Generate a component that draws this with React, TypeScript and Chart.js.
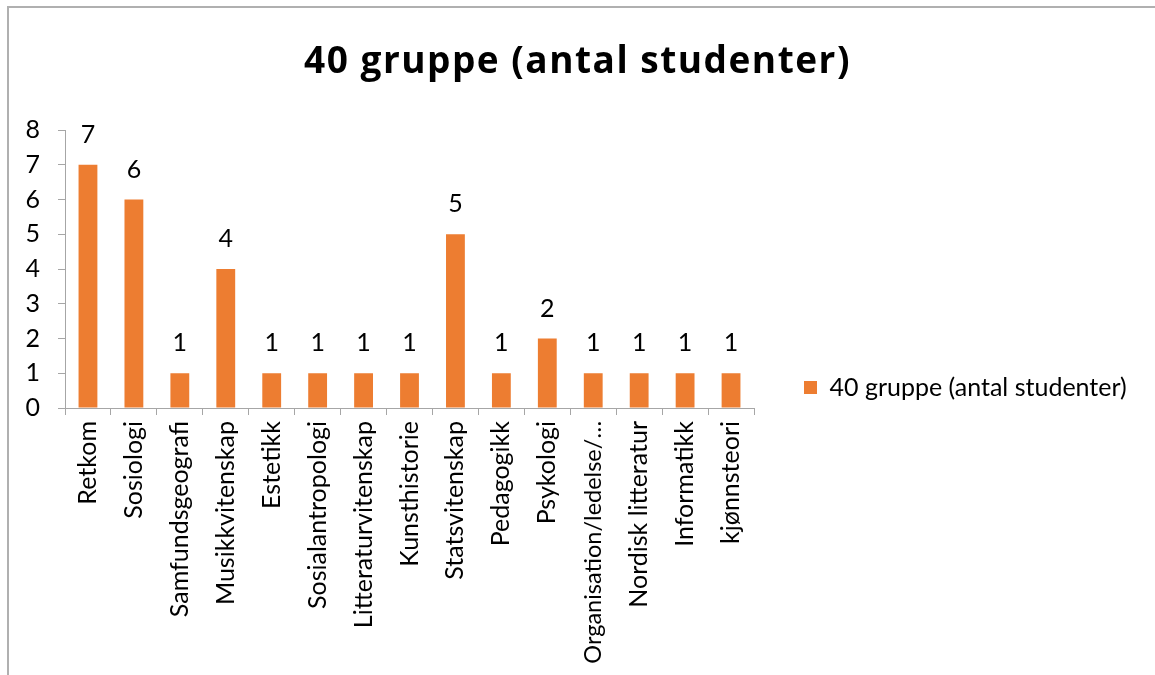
import React, { useEffect, useRef } from "react";
import { Chart, registerables } from "chart.js";

Chart.register(...registerables);

const categories = [
  "Retkom",
  "Sosiologi",
  "Samfundsgeografi",
  "Musikkvitenskap",
  "Estetikk",
  "Sosialantropologi",
  "Litteraturvitenskap",
  "Kunsthistorie",
  "Statsvitenskap",
  "Pedagogikk",
  "Psykologi",
  "Organisation/ledelse/…",
  "Nordisk litteratur",
  "Informatikk",
  "kjønnsteori",
];
const seriesName = "40 gruppe (antal studenter)";
const values = [7, 6, 1, 4, 1, 1, 1, 1, 5, 1, 2, 1, 1, 1, 1];
const yTicks = [0, 1, 2, 3, 4, 5, 6, 7, 8];

const FONT = "Lato, 'Open Sans', sans-serif";
const TITLE_FONT = "'Open Sans', Lato, sans-serif";
const BAR = "#ED7D31";
const AXIS = "#a6a6a6";

const dataLabels = {
  id: "dataLabels",
  afterDatasetsDraw(chart: any) {
    const ctx = chart.ctx;
    ctx.save();
    ctx.font = `25px ${FONT}`;
    ctx.fillStyle = "#000";
    ctx.textAlign = "center";
    ctx.textBaseline = "alphabetic";
    chart.getDatasetMeta(0).data.forEach((el: any, i: number) => {
      ctx.fillText(String(values[i]), el.x, el.y - 22);
    });
    ctx.restore();
  },
};

const boxTweaks = {
  id: "boxTweaks",
  beforeInit(chart: any) {
    const lg = chart.legend;
    if (lg) {
      const orig = lg.fit;
      lg.fit = function () {
        orig.call(this);
        this.width = 401;
      };
    }
    const tb = chart.titleBlock;
    if (tb) {
      const origDraw = tb.draw;
      tb.draw = function () {
        const c = this.ctx;
        const prev = c.letterSpacing;
        c.letterSpacing = "1.5px";
        origDraw.call(this);
        c.letterSpacing = prev || "0px";
      };
    }
  },
  afterLayout(chart: any) {
    const lg = chart.legend;
    if (!lg) return;
    lg.left = 794;
    lg.right = 1155;
    lg.width = 361;
    lg.top += 50;
    lg.bottom += 50;
  },
};

export default function App() {
  const ref = useRef<HTMLCanvasElement>(null);
  useEffect(() => {
    if (!ref.current) return;
    const chart = new Chart(ref.current, {
      type: "bar",
      data: {
        labels: categories,
        datasets: [
          {
            label: seriesName,
            data: values,
            backgroundColor: BAR,
            borderWidth: 0,
            categoryPercentage: 1,
            barPercentage: 0.41,
          },
        ],
      },
      options: {
        responsive: false,
        animation: false,
        layout: { padding: { left: 0, right: 0, top: 0, bottom: 0 } },
        plugins: {
          title: {
            display: true,
            text: seriesName,
            color: "#000",
            font: { family: TITLE_FONT, size: 37, weight: "bold", lineHeight: 1.2 },
            padding: { top: 40.3, bottom: 45.3 },
          },
          legend: {
            display: true,
            position: "right",
            labels: {
              color: "#000",
              font: { family: FONT, size: 25 },
              boxWidth: 13,
              boxHeight: 13,
              padding: 10,
            },
          },
          tooltip: { enabled: false },
        },
        scales: {
          x: {
            grid: {
              offset: true,
              drawOnChartArea: false,
              drawTicks: true,
              tickLength: 7,
              color: AXIS,
            },
            border: { display: true, color: AXIS, width: 1 },
            ticks: {
              color: "#000",
              font: (ctx: any) => ({
                family: FONT,
                size: String(categories[ctx.index] || "").length > 20 ? 23.5 : 25,
              }),
              minRotation: 90,
              maxRotation: 90,
              autoSkip: false,
              padding: 6,
            },
            afterFit(scale: any) {
              scale.height = 267;
            },
          },
          y: {
            min: 0,
            max: 8,
            afterBuildTicks(scale: any) {
              scale.ticks = yTicks.map((v) => ({ value: v }));
            },
            grid: {
              drawOnChartArea: false,
              drawTicks: true,
              tickLength: 7,
              color: AXIS,
            },
            border: { display: true, color: AXIS, width: 1 },
            ticks: {
              color: "#000",
              font: { family: FONT, size: 25 },
              padding: 18,
            },
            afterFit(scale: any) {
              scale.width = 65;
            },
          },
        },
      },
      plugins: [dataLabels, boxTweaks],
    });
    return () => chart.destroy();
  }, []);
  return (
    <div style={{ position: "fixed", left: 0, top: 0, width: 1155, height: 675, background: "#fff" }}>
      <div
        style={{
          position: "absolute",
          left: 7,
          top: 6,
          width: 1200,
          height: 700,
          borderTop: "2px solid #b0b0b0",
          borderLeft: "2px solid #b0b0b0",
        }}
      />
      <canvas ref={ref} width={1155} height={675} style={{ position: "absolute", left: 0, top: 0 }} />
    </div>
  );
}
